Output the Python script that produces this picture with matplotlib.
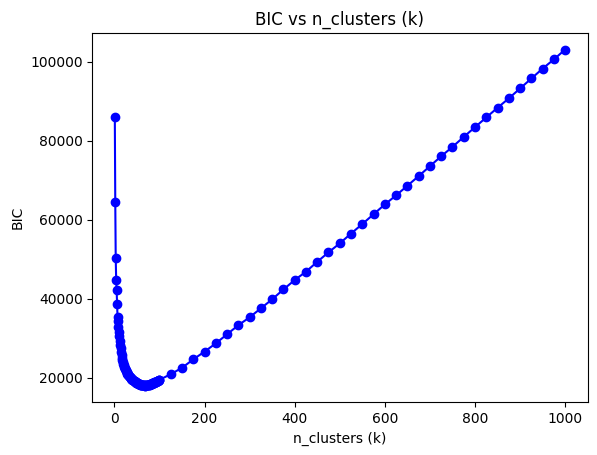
import matplotlib
matplotlib.use('Agg')
import matplotlib.pyplot as plt

# n_clusters tried: every k below 100, then steps of 25 up to 1000
k_fine = list(range(1, 100))
k_coarse = list(range(100, 1001, 25))

bic_fine = [86000, 64500, 50300, 44800, 42200, 38500, 35400, 34200, 32800, 31500,
            30400, 29300, 28300, 27400, 26500, 25700, 25000, 24400, 23900, 23500,
            23100, 22700, 22400, 22100, 21800, 21550, 21300, 21100, 20950, 20800,
            20650, 20500, 20350, 20220, 20100, 19980, 19860, 19740, 19620, 19500,
            19400, 19300, 19200, 19100, 19010, 18930, 18850, 18770, 18690, 18620,
            18550, 18490, 18430, 18370, 18320, 18270, 18230, 18190, 18150, 18120,
            18090, 18060, 18040, 18020, 18000, 17990, 17980, 17980, 17990, 18000,
            18020, 18040, 18060, 18090, 18120, 18150, 18190, 18230, 18270, 18310,
            18360, 18410, 18460, 18510, 18560, 18610, 18660, 18710, 18760, 18810,
            18870, 18930, 18990, 19050, 19110, 19170, 19230, 19290, 19350]

bic_coarse = [19410, 20850, 22450, 24600, 26550, 28650, 30950, 33250, 35250, 37520,
              39800, 42300, 44680, 46800, 49300, 51700, 53970, 56450, 58860, 61360,
              63830, 66130, 68550, 71000, 73500, 76030, 78400, 80920, 83400, 85860,
              88300, 90680, 93200, 95720, 98220, 100550, 103050]

k_all = k_fine + k_coarse
bic_all = bic_fine + bic_coarse

fig = plt.figure(figsize=(5.97, 4.55), dpi=100)
ax = fig.add_axes([0.1546, 0.1158, 0.8298, 0.8123])
ax.plot(k_all, bic_all, 'bo-')
ax.set_title('BIC vs n_clusters (k)')
ax.set_xlabel('n_clusters (k)')
ax.set_ylabel('BIC')

plt.savefig('out.png', dpi=100)
